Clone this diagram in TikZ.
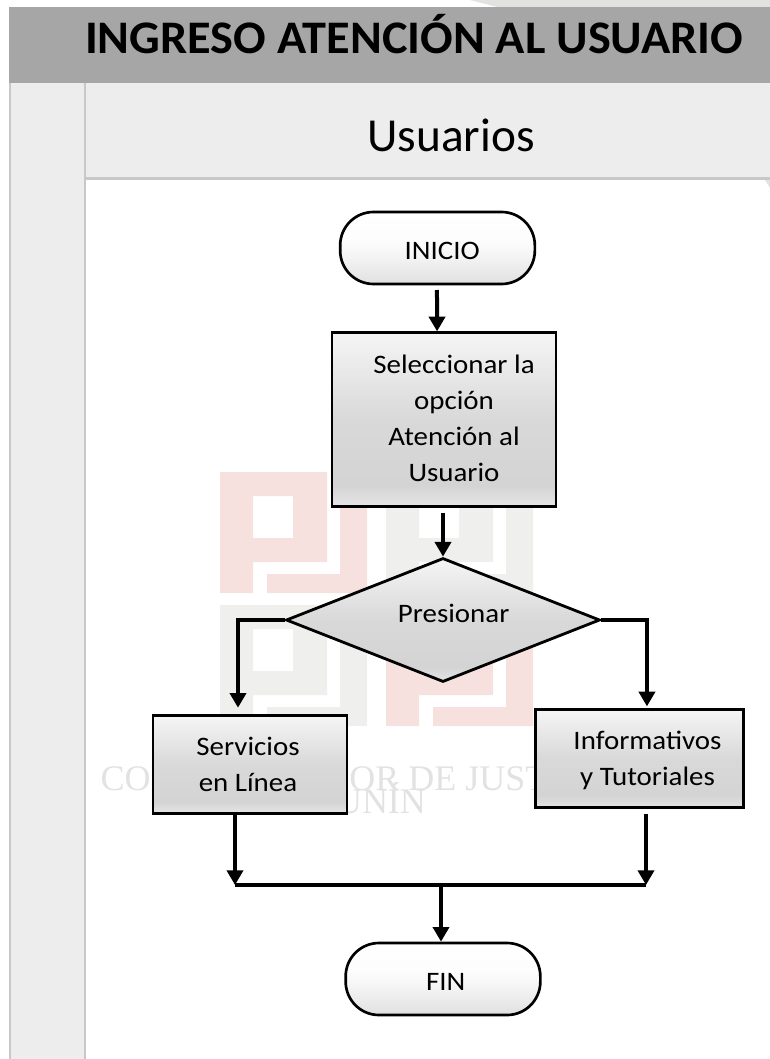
\documentclass[tikz,border=0pt]{standalone}
\usepackage{fontspec}
\setmainfont{Carlito}
\newfontfamily\wmfont{Liberation Serif}
\newfontfamily\flowfont[FakeStretch=1.085]{Carlito}
\newfontfamily\titlefont[FakeStretch=1.035,BoldFont={Carlito Bold}]{Carlito}
\usetikzlibrary{shapes.geometric,arrows.meta,calc}
\definecolor{headgray}{HTML}{A6A6A6}
\definecolor{bandgray}{HTML}{EDEDED}
\definecolor{linegray}{HTML}{C8C8C8}
\definecolor{cornergray}{HTML}{E2E2E0}
\definecolor{wmred}{HTML}{F6E1DF}
\definecolor{wmgray}{HTML}{EFEFED}
\definecolor{wmtext}{HTML}{E2E2E2}
\pgfdeclareverticalshading{procshade}{100bp}{color(0bp)=(black!10); color(25bp)=(black!10); color(31bp)=(black!17); color(50bp)=(black!15); color(75bp)=(black!4); color(100bp)=(black!4)}
\pgfdeclareverticalshading{termshade}{100bp}{color(0bp)=(black!12); color(25bp)=(black!12); color(45bp)=(black!4); color(55bp)=(black!1); color(75bp)=(black!0); color(100bp)=(black!0)}
\newcommand{\pjmark}[3]{%
  \begin{scope}[shift={(#1,#2)}]
    \fill[#3,even odd rule] (0,0) -- (107,0) -- (107,90) -- (33,90) -- (33,121) -- (0,121) -- cycle
      (33,24) -- (73,24) -- (73,66) -- (33,66) -- cycle;
    \fill[#3] (47,121) -- (147,121) -- (147,0) -- (120,0) -- (120,102) -- (47,102) -- cycle;
  \end{scope}}
\newsavebox{\txtbox}
\newcommand{\txt}[3]{\sbox{\txtbox}{\begin{tabular}{@{}c@{}}#3\end{tabular}}\kern#1\raisebox{\dimexpr #2-(\ht\txtbox-\dp\txtbox)/2\relax}[0pt][0pt]{\usebox{\txtbox}}}
\tikzset{
  flowtext/.style={font=\flowfont\fontsize{20pt}{27pt}\selectfont,text=black,inner sep=0pt},
  termbox/.style={flowtext,draw=black,line width=2pt,shading=termshade,rounded corners=25pt,minimum height=54pt},
  procbox/.style={flowtext,draw=black,line width=2.2pt,shading=procshade},
  decbox/.style={flowtext,diamond,draw=black,line width=2.1pt,shading=procshade},
  flow/.style={line width=3pt,-{Triangle[width=12pt,length=11pt]}},
  plain line/.style={line width=3pt}
}
\begin{document}
\begin{tikzpicture}[x=0.75pt,y=-0.75pt]
\useasboundingbox (0,0) rectangle (770,1059);
% page furniture
\fill[cornergray] (470,0) -- (770,0) -- (770,7) -- (497,7) -- cycle;
\fill[cornergray] (765,180) -- (770,180) -- (770,188) -- cycle;
\fill[bandgray] (9,83) rectangle (770,178);
\fill[bandgray] (9,178) rectangle (85,1059);
\fill[headgray] (9,7) rectangle (770,83);
\fill[linegray] (84,83) rectangle (86,1059);
\fill[linegray] (9,83) rectangle (11,1059);
\fill[linegray] (85,177.5) rectangle (770,180);
\node[font=\titlefont\fontsize{35pt}{38pt}\bfseries\selectfont,inner sep=0pt,anchor=base] (title) at (414,54) {INGRESO ATENCIÓN AL USUARIO};
\node[font=\fontsize{35.5pt}{38pt}\selectfont,inner sep=0pt,anchor=base] (lane) at (451,152) {Usuarios};
% watermark
\pjmark{220}{472}{wmred}
\pjmark{386}{472}{wmgray}
\pjmark{220}{605}{wmgray}
\pjmark{386}{605}{wmred}
\node[font=\fontsize{27pt}{28pt}\wmfont\selectfont,text=wmtext,inner sep=0pt,anchor=base] (wm1) at (361,790) {CORTE SUPERIOR DE JUSTICIA};
\node[font=\fontsize{27pt}{28pt}\wmfont\selectfont,text=wmtext,inner sep=0pt,anchor=base] (wm2) at (374,813) {JUNÍN};
% nodes
\node[termbox,minimum width=146pt] (ini) at (437.5,248) {\txt{7pt}{-3pt}{INICIO}};
\node[procbox,minimum width=168pt,minimum height=130pt] (sel) at (444,419.5) {\txt{15pt}{-0.8pt}{Seleccionar la\\opción\\Atención al\\Usuario}};
\node[decbox,minimum width=235.5pt,minimum height=93pt,aspect=2.53] (dec) at (443,620) {\txt{16pt}{3.5pt}{Presionar}};
\node[procbox,minimum width=145.5pt,minimum height=73pt] (srv) at (250,764.5) {\txt{-3pt}{-1.5pt}{Servicios\\en Línea}};
\node[procbox,minimum width=156.5pt,minimum height=73pt] (inf) at (639.5,758.5) {\txt{12pt}{-1pt}{Informativos\\y Tutoriales}};
\node[termbox,minimum width=146pt] (fin) at (443,979) {\txt{4pt}{-3.5pt}{FIN}};
\coordinate (busL) at (235,885);
\coordinate (busM) at (441,885);
\coordinate (busR) at (646,885);
% connectors
\draw[flow,shorten <=3.5pt] ([xshift=-0.4pt]ini.south) -- ([xshift=-5.2pt]sel.north);
\draw[flow,shorten <=4pt] (sel.south -| dec.north) -- (dec.north);
\draw[flow,shorten >=5pt] (dec.west) -| ([xshift=-9pt]srv.north);
\draw[flow,shorten >=1.5pt] (dec.east) -| ([xshift=5.6pt]inf.north);
\draw[flow] (srv.south -| busL) -- (busL);
\draw[flow,shorten <=4pt] (inf.south -| busR) -- (busR);
\draw[plain line] (busL) -- (busR);
\draw[flow] (busM) -- (fin.north -| busM);
\end{tikzpicture}
\end{document}
